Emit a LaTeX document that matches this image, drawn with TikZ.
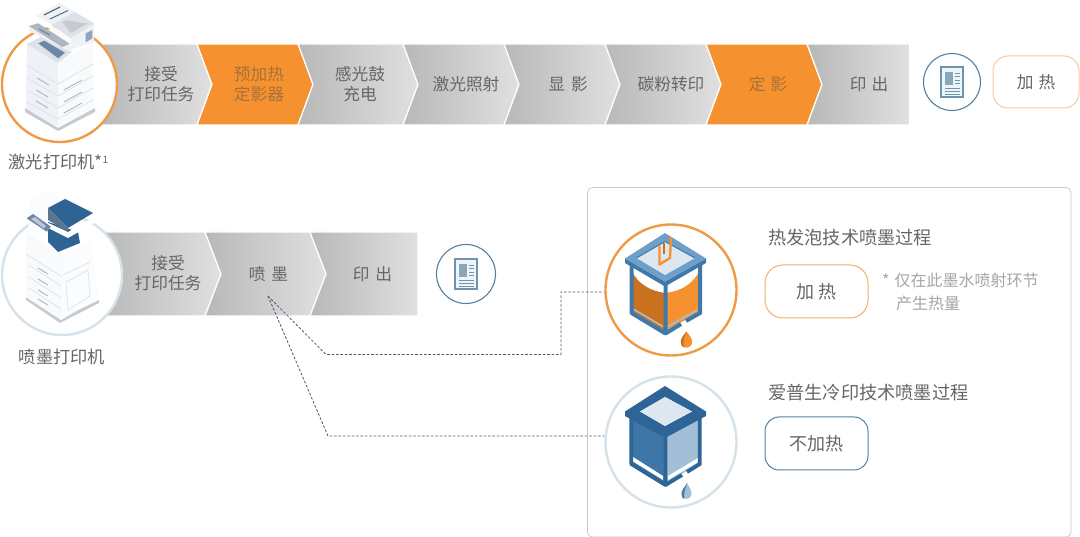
\documentclass[tikz,border=0pt]{standalone}
\usepackage{fontspec}
\setmainfont{Noto Sans CJK SC}[Scale=1]
\tikzset{
  x=1pt,y=-1pt,
  lbl/.style={inner sep=0pt,text=txtgray,align=center,font=\fontsize{16.7}{20}\selectfont},
  lblo/.style={lbl,text=orangetxt},
  caption text/.style={inner sep=0pt,text=txtgray,font=\fontsize{17.2}{20}\selectfont},
  head/.style={inner sep=0pt,text=txtgray,anchor=west,font=\fontsize{18.2}{22}\selectfont},
  note/.style={inner sep=0pt,text=notegray,anchor=west,font=\fontsize{16}{20}\selectfont},
  chev/.style={draw=white,line width=1.2pt,left color=chevdark,right color=chevlight,shading angle=90},
  chevo/.style={draw=white,line width=1.2pt,fill=inkorange},
  link/.style={draw=linkblue,line width=0.8pt,dash pattern=on 2.6pt off 1.8pt},
  btn/.style={draw,fill=white,rounded corners=15pt,line width=1pt},
  ringo/.style={circle,draw=ringorange,fill=white,line width=2.4pt,inner sep=0pt},
  ringb/.style={circle,draw=ringblue,fill=white,line width=2.4pt,inner sep=0pt},
  ringd/.style={circle,draw=docblue,fill=white,line width=1.1pt,inner sep=0pt},
}
\definecolor{txtgray}{HTML}{666666}
\definecolor{orangetxt}{HTML}{A8703A}
\definecolor{notegray}{HTML}{A6A6A6}
\definecolor{chevdark}{HTML}{B8B8B8}
\definecolor{chevlight}{HTML}{E0E0E0}
\definecolor{inkorange}{HTML}{F5922F}
\definecolor{inkdark}{HTML}{C9711F}
\definecolor{ringorange}{HTML}{EF9A45}
\definecolor{ringblue}{HTML}{D6E2EA}
\definecolor{docblue}{HTML}{55819E}
\definecolor{linkblue}{HTML}{4A5E75}
\definecolor{frameblue}{HTML}{2F6496}
\definecolor{framelt}{HTML}{3F78AB}
\definecolor{rimlt}{HTML}{6E9FC8}
\definecolor{facel}{HTML}{3F76A8}
\definecolor{facer}{HTML}{A3BFD7}
\definecolor{lidpale}{HTML}{DCE7EF}
\definecolor{prnA}{HTML}{EEF2F6}
\definecolor{prnB}{HTML}{F8FAFB}
\definecolor{prnC}{HTML}{DDE2E8}
\definecolor{prnD}{HTML}{C6CBD0}
\definecolor{prnDark}{HTML}{6C88A8}
\definecolor{prnInk}{HTML}{2D6494}
\definecolor{prnLine}{HTML}{AEB6BE}
\begin{document}
\begin{tikzpicture}
\useasboundingbox (0,0) rectangle (1080,537);
\fill[white] (0,0) rectangle (1080,537);

% ---- top chevrons
\path[chev] (100,44) -- (197,44) -- (212,84.5) -- (197,125) -- (100,125) -- cycle;
\path[chevo] (197,44) -- (298,44) -- (313,84.5) -- (298,125) -- (197,125) -- (212,84.5) -- cycle;
\path[chev] (298,44) -- (403,44) -- (418,84.5) -- (403,125) -- (298,125) -- (313,84.5) -- cycle;
\path[chev] (403,44) -- (504,44) -- (519,84.5) -- (504,125) -- (403,125) -- (418,84.5) -- cycle;
\path[chev] (504,44) -- (605,44) -- (620,84.5) -- (605,125) -- (504,125) -- (519,84.5) -- cycle;
\path[chev] (605,44) -- (706,44) -- (721,84.5) -- (706,125) -- (605,125) -- (620,84.5) -- cycle;
\path[chevo] (706,44) -- (807,44) -- (822,84.5) -- (807,125) -- (706,125) -- (721,84.5) -- cycle;
\path[chev] (807,44) -- (909.5,44) -- (909.5,125) -- (807,125) -- (822,84.5) -- cycle;

% ---- second row chevrons
\path[chev] (100,232) -- (205,232) -- (221,274) -- (205,316) -- (100,316) -- cycle;
\path[chev] (205,232) -- (310,232) -- (326,274) -- (310,316) -- (205,316) -- (221,274) -- cycle;
\path[chev] (310,232) -- (418,232) -- (418,316) -- (310,316) -- (326,274) -- cycle;

% ---- panel
\draw[draw=ringblue!90!black,line width=0.7pt,rounded corners=5pt] (587.5,187.5) rectangle (1071,537);

% ---- printer rings
\node[ringo,minimum size=115pt] (laserring) at (59.5,84.5) {};
\node[ringb,minimum size=120pt] (inkring) at (62,275) {};

% ---- laser printer: base and body
\fill[prnD] (25,108) -- (58,128) -- (95,108) -- (95,112) -- (58,131) -- (25,112) -- cycle;
\fill[prnA] (27,44) -- (58,63) -- (58,127) -- (26,108) -- cycle;
\fill[prnB] (58,63) -- (93,42) -- (94,108) -- (58,127) -- cycle;
\draw[prnC,line width=.7pt] (27,65) -- (58,84) -- (93,64) (27,78) -- (58,96) -- (93,76) (27,90) -- (58,108) -- (93,88) (27,102) -- (58,119) -- (93,100);
\draw[prnLine,line width=.9pt] (37,78) -- (49,85) (36,90) -- (48,97) (36,101) -- (48,108) (64,90) -- (82,80) (64,102) -- (82,92) (64,113) -- (82,103);
\fill[prnC] (27,44) -- (41,37) -- (72,52) -- (58,63) -- cycle;
\fill[prnDark] (38.3,43.3) -- (44.3,40.7) -- (65,52.7) -- (58.3,58.3) -- cycle;
% ---- laser printer: scanner
\fill[prnA] (71,38) -- (94,23) -- (94,42) -- (70,50) -- cycle;
\fill[prnB] (51,25) -- (71,38) -- (71,46) -- (51,33) -- cycle;
\fill[prnC] (51.7,25) -- (74.3,11.7) -- (94.3,23.3) -- (71,38.3) -- cycle;
\fill[prnD] (62,22) .. controls (70,18) and (78,24) .. (88,23) -- (71,33) .. controls (68,30) and (66,26) .. (62,22) -- cycle;
\fill[prnB!70!prnC] (35.7,16) -- (60,2.7) -- (74.3,11.7) -- (51.7,25) -- cycle;
\fill[white] (35.7,16) -- (51.7,25) -- (51.7,29.5) -- (35.7,22) -- cycle;
\draw[prnDark!80!black,line width=1.2pt] (44,15) -- (60,7);
\draw[prnDark!80!black,line width=1pt] (50,19) -- (68,10.5);
\fill[prnDark!75!white] (85.7,33.3) -- (92.3,30) -- (92.3,38.3) -- (85.7,42.3) -- cycle;
\fill[prnA] (29,26) -- (70,46) -- (70,51.7) -- (29,31) -- cycle;
\fill[prnLine] (29,26) -- (38.3,23.3) -- (70,44) -- (62,47) -- cycle;
\draw[prnDark,line width=1.2pt] (39,29) -- (50,35);

% ---- inkjet printer
\fill[prnD] (26,297) -- (60,319) -- (99,300) -- (99,303) -- (60,323) -- (26,300) -- cycle;
\fill[prnB] (26,232) -- (63,255) -- (61,320) -- (26,297) -- cycle;
\fill[prnB!50!white] (63,255) -- (91,240) -- (98,298) -- (61,320) -- cycle;
\fill[prnB!60!white] (30,200) -- (48,191) -- (65,199) -- (66,225) -- (28,232) -- cycle;
\draw[prnC,line width=.7pt] (26,254) -- (61,276) (29,265) -- (61,286) (29,277) -- (61,298) (29,288) -- (61,309);
\draw[prnLine,line width=.9pt] (38,268) -- (48,274) (38,279) -- (48,285) (38,290) -- (48,296) (38,299) -- (48,305);
\draw[prnC,line width=.7pt] (63,275) -- (90,262) (66,282) -- (88,270) -- (90,296) -- (68,310) -- cycle;
\fill[prnInk] (48,222) -- (78,232) -- (80,243) -- (58,252) -- (48,242) -- cycle;
\fill[white] (46,222) -- (68,232) -- (95,217) -- (96,222) -- (68,238) -- (46,227) -- cycle;
\fill[prnInk] (48,208) -- (65,199) -- (93,213) -- (68,228) -- cycle;
\fill[prnDark!85!black] (48,208) -- (48,220) -- (68,232) -- (68,228) -- cycle;
\fill[prnDark] (26.7,218.3) -- (33,214) -- (51,226.7) -- (46.7,231.7) -- cycle;
\fill[prnC!70!prnDark] (31,219) -- (35,217) -- (46,226) -- (44,228.5) -- cycle;

% ---- labels under printers
\node[caption text] (laserlabel) at (58.5,162) {激光打印机*\raisebox{5pt}{\fontsize{10}{10}\selectfont 1}};
\node[caption text] (inklabel) at (62,356.5) {喷墨打印机};

% ---- chevron labels
\node[lbl] (t1) at (161,84) {接受\\打印任务};
\node[lblo] (t2) at (259,84) {预加热\\定影器};
\node[lbl] (t3) at (360,84) {感光鼓\\充电};
\node[lbl] (t4) at (466,84.5) {激光照射};
\node[lbl] (t5) at (568,84.5) {显\hspace{6pt}影};
\node[lbl] (t6) at (671,84.5) {碳粉转印};
\node[lblo] (t7) at (768,84.5) {定\hspace{5pt}影};
\node[lbl] (t8) at (869,84.5) {印\hspace{5pt}出};
\node[lbl] (b1) at (168,273) {接受\\打印任务};
\node[lbl] (b2) at (268.5,274) {喷\hspace{6pt}墨};
\node[lbl] (b3) at (372.5,274) {印\hspace{6pt}出};

% ---- document icons
\newcommand{\docicon}[2]{%
  \begin{scope}[shift={(#1,#2)}]
    \draw[docblue!85!white,fill=lidpale!45!white,line width=1.1pt] (-11,-15) rectangle (11,15);
    \fill[docblue!70!white] (-7,-10) rectangle (1,3);
    \draw[docblue!85!white,line width=.9pt] (2.5,-9) -- (8,-9) (2.5,-5.5) -- (8,-5.5) (2.5,-2) -- (8,-2) (2.5,1.5) -- (8,1.5) (-7,6) -- (8,6) (-7,9) -- (8,9) (-7,12) -- (8,12);
  \end{scope}}
\node[ringd,minimum size=57pt] (doc1) at (952,82) {};
\docicon{952}{82}
\node[ringd,minimum size=59pt] (doc2) at (466,274) {};
\docicon{466}{274}

% ---- buttons
\node[btn,draw=ringorange!50!white,minimum width=86pt,minimum height=52pt,inner sep=0pt,text=txtgray,font=\fontsize{16.7}{20}\selectfont] (heat1) at (1036,82) {加\hspace{5pt}热};
\node[btn,draw=ringorange!80!white,minimum width=103pt,minimum height=53pt,inner sep=0pt,rounded corners=18pt,text=txtgray,font=\fontsize{18}{22}\selectfont] (heat2) at (816.5,291.5) {加\hspace{5pt}热};
\node[btn,draw=docblue,minimum width=103pt,minimum height=53pt,inner sep=0pt,rounded corners=14pt,text=txtgray,font=\fontsize{18}{22}\selectfont] (noheat) at (816.5,443.5) {不加热};

% ---- panel text
\node[head] (h1) at (768,238) {热发泡技术喷墨过程};
\node[head] (h2) at (768,393) {爱普生冷印技术喷墨过程};
\node[note] (n1) at (882,280) {*\hspace{5pt}仅在此墨水喷射环节};
\node[note] (n2) at (896,303) {产生热量};

% ---- tank rings
\node[ringo,minimum size=131pt] (tankring1) at (671,290) {};
\node[ringb,minimum size=131pt] (tankring2) at (671,442) {};

% ---- thermal tank
\fill[inkdark] (631,270) .. controls (638,284) and (650,291) .. (665,293) -- (665,331) -- (631,312) -- cycle;
\fill[inkorange] (665,293) .. controls (682,291) and (693,284) .. (700,270) -- (700,312) -- (665,331) -- cycle;
\draw[facer,line width=1.6pt] (634,309.5) -- (663,326.5) (668,326.5) -- (697,310);
\draw[framelt,line width=4pt,line join=round] (631.5,262) -- (631.5,313) -- (665.5,333.5) -- (665.5,284);
\draw[framelt,line width=4pt] (700,262) -- (700,313) -- (686,321) (681,324) -- (665.5,333.5);
\fill[framelt] (625,258.5) -- (665,281.5) -- (706,258.5) -- (706,263) -- (665,286.5) -- (625,263) -- cycle;
\fill[rimlt] (665,233) -- (706,258.5) -- (665,281.5) -- (625,258.5) -- cycle;
\fill[lidpale] (665,241.5) -- (695,258) -- (665,275) -- (636.5,258) -- cycle;
\draw[framelt,line width=1pt] (636.5,258) -- (665,241.5) -- (695,258);
\draw[inkorange,line width=2.4pt,line join=round] (659.5,246) -- (659.5,264.5) -- (670,258) -- (671,237);
\draw[inkdark,line width=1.2pt] (664,243) -- (664,254);
\fill[inkorange] (686.5,331.5) .. controls (689,335) and (692.2,338) .. (692.2,342) arc (0:180:5.7) .. controls (680.8,338) and (684,335) .. (686.5,331.5) -- cycle;
\fill[inkdark] (686.5,331.5) .. controls (684,335) and (680.8,338) .. (680.8,342) .. controls (680.8,345) and (682,347) .. (684,347.5) .. controls (683,342) and (684,337) .. (686.5,331.5) -- cycle;

% ---- epson tank
\fill[facel] (631,414) -- (665,433) -- (665,484) -- (631,463) -- cycle;
\fill[facer] (665,433) -- (700,414) -- (700,463) -- (665,484) -- cycle;
\fill[white] (633,457) -- (663,476) -- (663,480) -- (633,461.5) -- cycle;
\fill[white] (668,476) -- (698,458) -- (698,462) -- (668,480) -- cycle;
\draw[frameblue,line width=3.8pt,line join=round] (631.3,414) -- (631.3,464) -- (665.5,485) -- (665.5,435);
\draw[frameblue,line width=3.8pt] (699.8,414) -- (699.8,464) -- (687,472) (682,475) -- (665.5,485);
\fill[frameblue,even odd rule] (665,386) -- (706,411.5) -- (706,416) -- (665,438) -- (625,416) -- (625,411.5) -- cycle (665,397) -- (640,411.5) -- (665,426) -- (692,411.5) -- cycle;
\fill[lidpale] (665,397) -- (692,411.5) -- (665,426) -- (640,411.5) -- cycle;
\fill[facer] (687,483) .. controls (689,487) and (691.5,490) .. (691.5,494) arc (0:180:5) .. controls (681.5,490) and (685,487) .. (687,483) -- cycle;
\fill[frameblue!85!white] (687,483) .. controls (685,487) and (681.5,490) .. (681.5,494) .. controls (681.5,497) and (682.5,498.5) .. (684.5,499) .. controls (683.5,494) and (685,489) .. (687,483) -- cycle;

% ---- connectors
\coordinate (src) at (268,296);
\coordinate (k1) at (326,354.5);
\coordinate (k2) at (561,354.5);
\coordinate (k3) at (561,292);
\coordinate (k4) at (328,436);
\draw[link] (src) -- (k1) -- (k2) -- (k3) -- (tankring1.west |- k3);
\draw[link] (src) -- (k4) -- (tankring2.west |- k4);
\end{tikzpicture}
\end{document}
